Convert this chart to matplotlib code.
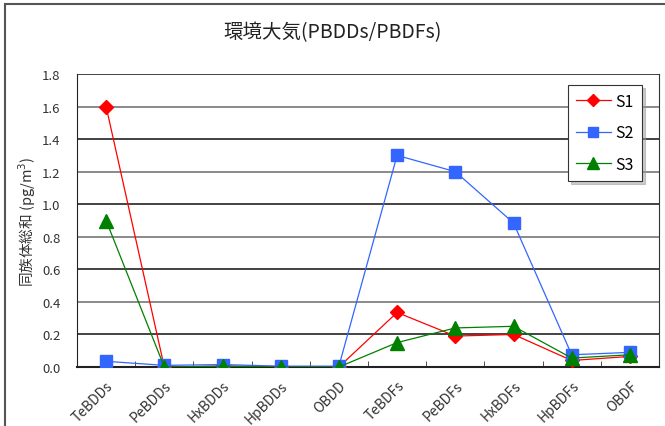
import matplotlib
matplotlib.use("Agg")
import matplotlib.pyplot as plt
from matplotlib.patches import Rectangle

plt.rcParams['font.family'] = ['Noto Sans CJK JP', 'DejaVu Sans']

categories = ["TeBDDs", "PeBDDs", "HxBDDs", "HpBDDs", "OBDD",
              "TeBDFs", "PeBDFs", "HxBDFs", "HpBDFs", "OBDF"]
s1 = [1.60, 0.00, 0.005, 0.00, 0.00, 0.335, 0.19, 0.20, 0.04, 0.065]
s2 = [0.035, 0.01, 0.015, 0.005, 0.005, 1.30, 1.20, 0.885, 0.075, 0.09]
s3 = [0.90, 0.00, 0.005, 0.00, 0.00, 0.15, 0.24, 0.25, 0.055, 0.075]
yticks = [0.0, 0.2, 0.4, 0.6, 0.8, 1.0, 1.2, 1.4, 1.6, 1.8]

W, H = 665, 427
fig = plt.figure(figsize=(W/100, H/100), dpi=100)
# outer frame
fig.patches.append(Rectangle((5/W, -0.01), 1.0, (H-5)/H + 0.01, transform=fig.transFigure,
                             fill=False, edgecolor='#555555', linewidth=1.5))

ax = fig.add_axes([77/W, 1 - 368/H, (659-77)/W, (368-75)/H])
x = list(range(len(categories)))
ax.plot(x, s1, color='#ff0000', lw=0.9, marker='D', markersize=7.5, label='S1', zorder=3)
ax.plot(x, s2, color='#3366ff', lw=0.9, marker='s', markersize=8.5, label='S2', zorder=3)
ax.plot(x, s3, color='#008000', lw=0.9, marker='^', markersize=10, label='S3', zorder=4)

ax.set_xlim(-0.5, len(categories) - 0.5)
ax.set_ylim(0, 1.8)
ax.set_yticks(yticks)
ax.set_yticklabels([f"{v:.1f}" for v in yticks], fontsize=9.5, color='#333333')
for i, v in enumerate(yticks[1:]):
    ax.axhline(v, color='#222222' if i % 2 == 0 else '#777777', lw=1.2, zorder=1)
ax.set_xticks(x)
ax.set_xticklabels(categories, rotation=45, ha='right', va='top', fontsize=10,
                   rotation_mode='anchor', color='#333333')
ax.tick_params(axis='x', length=0, pad=8)
ax.set_xticks([i + 0.5 for i in x[:-1]], minor=True)
ax.tick_params(axis='x', which='minor', direction='in', length=4, color='#333333')
ax.tick_params(axis='y', length=0, pad=12)
for sp in ['top']:
    ax.spines[sp].set_visible(False)
ax.spines['left'].set_color('#222222')
ax.spines['bottom'].set_color('#222222')
ax.spines['bottom'].set_linewidth(1.5)
ax.spines['right'].set_color('#333333')

ax.set_ylabel("同族体総和 (pg/m$^3$)", fontsize=10.5, color='#333333', labelpad=3)

fig.text(0.5, 1 - 33/H, "環境大気(PBDDs/PBDFs)", ha='center', va='center',
         fontsize=14, color='#222222')

leg = ax.legend(loc='upper right', bbox_to_anchor=(642/W, 1 - 86/H),
                bbox_transform=fig.transFigure, fontsize=11.5, frameon=True,
                fancybox=False, shadow={'ox': 2, 'oy': -2, 'color': '#999999'},
                edgecolor='#333333', markerscale=0.8,
                labelspacing=0.9, handlelength=2.2, handletextpad=0.3,
                borderpad=0.5, borderaxespad=0)
leg.get_frame().set_linewidth(0.8)

fig.savefig("out.png", dpi=100)
